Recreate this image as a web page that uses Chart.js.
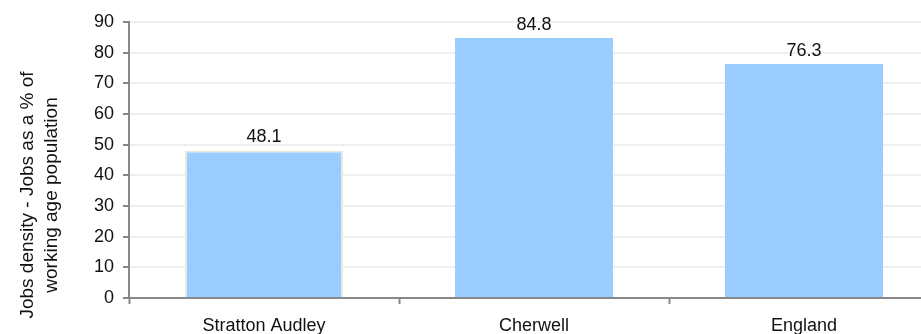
<!DOCTYPE html>
<html lang="en">
<head>
<meta charset="UTF-8">
<title>Jobs density</title>
<script src="https://cdn.jsdelivr.net/npm/chart.js"></script>
<style>
  body { margin: 0; overflow: hidden; background: #fff; }
</style>
</head>
<body>
<canvas id="jobsChart" width="940" height="334"></canvas>
<script>
// data
const areas = ['Stratton Audley', 'Cherwell', 'England'];
const jobsDensity = [48.1, 84.8, 76.3];
const yMin = 0;
const yMax = 90;
const yStep = 10;
const yTitle = ['Jobs density - Jobs as a % of', 'working age population'];

const FONT = '"Liberation Sans", Arial, sans-serif';

// value above each bar + rotated axis title
const labelPlugin = {
    id: 'barLabels',
    afterDatasetsDraw(chart) {
        const ctx = chart.ctx;
        const meta = chart.getDatasetMeta(0);
        ctx.save();
        ctx.fillStyle = '#111';
        ctx.font = '18px ' + FONT;
        ctx.textAlign = 'center';
        ctx.textBaseline = 'alphabetic';
        meta.data.forEach(function(bar, i) {
            ctx.fillText(jobsDensity[i].toFixed(1), bar.x, bar.y - 8);
        });
        ctx.restore();
    },
    afterDraw(chart) {
        const ctx = chart.ctx;
        ctx.save();
        ctx.fillStyle = '#111';
        ctx.font = '19px ' + FONT;
        ctx.textAlign = 'center';
        ctx.translate(33, 195);
        ctx.rotate(-Math.PI / 2);
        yTitle.forEach(function(line, i) {
            ctx.fillText(line, 0, i * 24);
        });
        ctx.restore();
    }
};

new Chart(document.getElementById('jobsChart'), {
    type: 'bar',
    data: {
        labels: areas,
        datasets: [{
            data: jobsDensity,
            backgroundColor: '#99ccff',
            borderColor: ['#ebe8dc', 'rgba(0,0,0,0)', 'rgba(0,0,0,0)'],
            borderWidth: [2, 0, 0],
            categoryPercentage: 1,
            barPercentage: 0.585
        }]
    },
    options: {
        responsive: false,
        animation: false,
        devicePixelRatio: 1,
        layout: { padding: { top: 22, right: 1, left: 0, bottom: 0 } },
        plugins: {
            legend: { display: false },
            tooltip: { enabled: false }
        },
        scales: {
            x: {
                afterFit(s) { s.height = 36; },
                grid: {
                    drawOnChartArea: false,
                    tickLength: 6,
                    tickColor: '#888',
                    tickWidth: 2
                },
                border: { color: '#888', width: 2 },
                ticks: {
                    color: '#111',
                    font: { family: FONT, size: 18 },
                    padding: 11,
                    maxRotation: 0
                }
            },
            y: {
                min: yMin,
                max: yMax,
                afterFit(s) { s.width = 129; },
                grid: {
                    color: '#efefef',
                    lineWidth: 2,
                    tickLength: 6,
                    tickColor: '#888',
                    tickWidth: 2
                },
                border: { color: '#888', width: 2 },
                ticks: {
                    stepSize: yStep,
                    color: '#111',
                    font: { family: FONT, size: 18 },
                    padding: 9
                }
            }
        }
    },
    plugins: [labelPlugin]
});
</script>
</body>
</html>
